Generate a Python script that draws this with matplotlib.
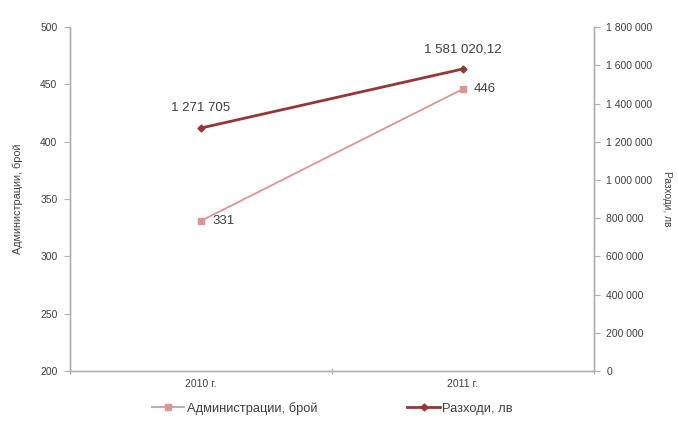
import matplotlib.pyplot as plt
from matplotlib.lines import Line2D

plt.rcParams['font.family'] = ['Liberation Sans', 'DejaVu Sans']

years = ["2010 г.", "2011 г."]
admins = [331, 446]
expenses = [1271705, 1581020.12]
admin_labels = ["331", "446"]
expense_labels = ["1 271 705", "1 581 020,12"]
left_ticks = [200, 250, 300, 350, 400, 450, 500]
right_ticks = [0, 200000, 400000, 600000, 800000, 1000000, 1200000, 1400000, 1600000, 1800000]

c_admin = "#d99694"
c_exp = "#953735"
c_axis = "#b0b0b0"
c_text = "#404040"

fig = plt.figure(figsize=(6.78, 4.37), dpi=100)
ax = fig.add_axes([0.1032, 0.151, 0.7728, 0.787])
ax2 = ax.twinx()

x = [0.5, 1.5]
ax.plot(x, admins, color=c_admin, lw=1.3, marker="s", ms=5, zorder=3)
ax2.plot(x, expenses, color=c_exp, lw=2.0, marker="D", ms=3.5, zorder=3)

for xi, v, t in zip(x, admins, admin_labels):
    ax.annotate(t, (xi, v), xytext=(8, 0), textcoords="offset points",
                ha="left", va="center", fontsize=9.5, color=c_text)
for xi, v, t in zip(x, expenses, expense_labels):
    ax2.annotate(t, (xi, v), xytext=(0, 10), textcoords="offset points",
                 ha="center", va="bottom", fontsize=9.5, color=c_text)

ax.set_xlim(0, 2)
ax.set_ylim(200, 500)
ax2.set_ylim(0, 1800000)
ax.set_yticks(left_ticks)
ax2.set_yticks(right_ticks)
ax2.set_yticklabels([f"{v:,}".replace(",", " ") for v in right_ticks])

ax.set_xticks([0, 1, 2])
ax.set_xticklabels([])
ax.set_xticks(x, minor=True)
ax.set_xticklabels(years, minor=True)
ax.tick_params(axis="x", which="minor", length=0, pad=6, labelsize=7.5, labelcolor=c_text)
ax.tick_params(axis="x", which="major", length=4, color=c_axis, direction="inout")

ax.tick_params(axis="y", labelsize=7.5, labelcolor=c_text, color=c_axis, length=4, pad=5)
ax2.tick_params(axis="y", labelsize=7.5, labelcolor=c_text, color=c_axis, length=4, pad=5)

for a in (ax, ax2):
    a.spines["top"].set_visible(False)
    for s in ("left", "right", "bottom"):
        a.spines[s].set_color(c_axis)
        a.spines[s].set_linewidth(1.0)

ax.set_ylabel("Администрации, брой", fontsize=7.8, color=c_text, labelpad=12)
ax2.set_ylabel("Разходи, лв", fontsize=7.3, color=c_text, rotation=270, labelpad=14)

handles = [
    Line2D([], [], color=c_admin, lw=1.3, marker="s", ms=5),
    Line2D([], [], color=c_exp, lw=2.0, marker="D", ms=3.5),
]
fig.legend(handles, ["Администрации, брой", "Разходи, лв"], loc="center",
           bbox_to_anchor=(0.49, 0.066), ncol=2, frameon=False, fontsize=9.3,
           labelcolor=c_text, columnspacing=7, handlelength=2.5, handletextpad=0.2)

fig.savefig("out.png", dpi=100)
